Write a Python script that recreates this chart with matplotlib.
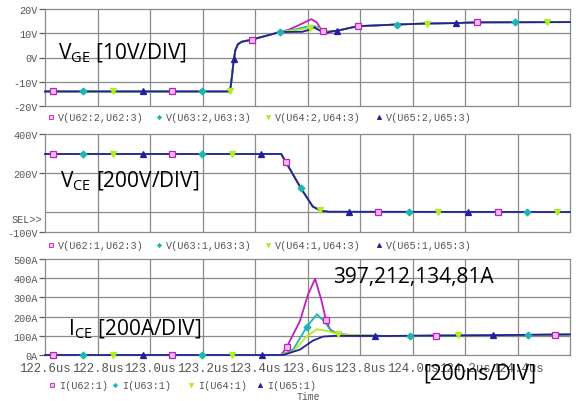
import numpy as np
import matplotlib
matplotlib.use('Agg')
import matplotlib.pyplot as plt

plt.rcParams['mathtext.fontset'] = 'custom'
plt.rcParams['mathtext.rm'] = 'Open Sans'
plt.rcParams['mathtext.it'] = 'Open Sans'

# ---- data (time in us) ----
# gate-emitter voltage, V
vge_t_common_a = [122.6, 123.305, 123.312, 123.318, 123.325, 123.335, 123.35, 123.389, 123.495]
vge_v_common_a = [-14, -14, -8, -2, 3, 5.5, 6.5, 7.4, 10.5]
vge_t_common_b = [123.79, 123.94, 124.05, 124.166, 124.25, 124.6]
vge_v_common_b = [12.9, 13.6, 14.0, 14.2, 14.5, 14.6]
vge_t_u62 = [123.53, 123.57, 123.615, 123.635, 123.655, 123.675, 123.70, 123.712]
vge_v_u62 = [11.5, 13.5, 15.8, 14.5, 11.0, 10.3, 10.8, 11.0]
vge_t_u63 = [123.55, 123.60, 123.63, 123.66, 123.69, 123.712]
vge_v_u63 = [11.5, 12.8, 12.8, 11.2, 10.8, 11.0]
vge_t_u64 = [123.55, 123.60, 123.64, 123.67, 123.712]
vge_v_u64 = [11.2, 12.0, 12.0, 11.0, 11.0]
vge_t_u65 = [123.58, 123.60, 123.62, 123.64, 123.667, 123.69, 123.712]
vge_v_u65 = [10.6, 11.2, 12.7, 11.5, 10.0, 10.8, 11.0]

# collector-emitter voltage, V (all four traces overlap)
vce_t = [122.6, 123.50, 123.518, 123.575, 123.62, 123.648, 123.68, 124.6]
vce_v = [298, 298, 256, 123, 30, 10, 3, 2]

# collector current, A
ice_t_u62 = [122.6, 123.50, 123.522, 123.571, 123.602, 123.629, 123.654, 123.669, 123.686, 123.711, 123.76, 123.9, 124.2, 124.6]
ice_i_u62 = [0, 0, 44, 176, 315, 397, 280, 190, 133, 112, 104, 99, 102, 107]
ice_t_u63 = [122.6, 123.50, 123.545, 123.598, 123.636, 123.667, 123.692, 123.725, 123.9, 124.2, 124.6]
ice_i_u63 = [0, 0, 28, 148, 212, 170, 122, 105, 99, 102, 107]
ice_t_u64 = [122.6, 123.50, 123.545, 123.594, 123.635, 123.665, 123.723, 123.9, 124.2, 124.6]
ice_i_u64 = [0, 0, 18, 93, 134, 128, 107, 99, 102, 107]
ice_t_u65 = [122.6, 123.507, 123.571, 123.621, 123.659, 123.705, 123.9, 124.2, 124.6]
ice_i_u65 = [0, 0, 28, 75, 96, 100, 99, 102, 107]

# marker times
vge_mk = [[122.630, 123.084, 123.389, 123.659, 123.792, 124.246],
          [122.745, 123.198, 123.495, 123.941, 124.390],
          [122.859, 123.305, 123.610, 124.055, 124.512],
          [122.973, 123.320, 123.712, 124.166]]
vce_mk = [[122.630, 123.084, 123.518, 123.869, 124.326],
          [122.745, 123.198, 123.575, 123.987, 124.436],
          [122.859, 123.312, 123.648, 124.097, 124.550],
          [122.973, 123.423, 123.758, 124.211]]
ice_mk = [[122.630, 123.084, 123.522, 123.671, 124.090, 124.543],
          [122.745, 123.198, 123.598, 123.990, 124.440],
          [122.859, 123.312, 123.716, 124.175],
          [122.973, 123.427, 123.857, 124.307]]

xticks = [122.6, 122.8, 123.0, 123.2, 123.4, 123.6, 123.8, 124.0, 124.2, 124.4]
xlabels = ['122.6us', '122.8us', '123.0us', '123.2us', '123.4us',
           '123.6us', '123.8us', '124.0us', '124.2us', '124.4us']

colors = ['#c020c0', '#20b4b4', '#b0ee20', '#2020a0']
markers = ['s', 'D', 'v', '^']
msizes = [4.5, 3.5, 5, 5]
mfaces = ['#f0c0f0', '#20b4b4', '#b0ee20', '#2020a0']

vge_leg = ['V(U62:2,U62:3)', 'V(U63:2,U63:3)', 'V(U64:2,U64:3)', 'V(U65:2,U65:3)']
vce_leg = ['V(U62:1,U62:3)', 'V(U63:1,U63:3)', 'V(U64:1,U64:3)', 'V(U65:1,U65:3)']
ice_leg = ['I(U62:1)', 'I(U63:1)', 'I(U64:1)', 'I(U65:1)']

mono = 'Liberation Mono'
tcol = '#555555'
W, H = 576, 402

fig = plt.figure(figsize=(5.76, 4.02), dpi=100)


def rect(l, t, r, b):
    return [l / W, 1 - b / H, (r - l) / W, (b - t) / H]


def setup(ax, yt, yl, ylim, grid_y):
    ax.set_xlim(122.6, 124.6)
    ax.set_ylim(*ylim)
    ax.set_xticks(xticks)
    ax.set_yticks(yt)
    ax.set_yticklabels(yl, family=mono, fontsize=7.3, color=tcol)
    for g in grid_y:
        ax.axhline(g, color='#8a8a8a', lw=0.9, zorder=0)
    for x in xticks[1:]:
        ax.axvline(x, color='#8a8a8a', lw=0.9, zorder=0)
    for s in ax.spines.values():
        s.set_color('#8a8a8a')
        s.set_linewidth(0.9)
    ax.tick_params(axis='y', length=4, width=0.9, color='#606060', pad=1)
    ax.tick_params(axis='x', length=0)


def draw(ax, series, mk):
    for i, (t, v) in enumerate(series):
        ax.plot(t, v, color=colors[i], lw=1.3, zorder=2 + i, clip_on=False)
    for i, (t, v) in enumerate(series):
        ax.plot(mk[i], np.interp(mk[i], t, v), ls='none', marker=markers[i],
                ms=msizes[i], mec=colors[i], mfc=mfaces[i], mew=0.9,
                zorder=10, clip_on=False)


def legend(y, labels, xs):
    for i, lab in enumerate(labels):
        fig.lines.append(plt.Line2D([(xs[i] - 7) / W], [1 - y / H], transform=fig.transFigure,
                                    marker=markers[i], ms=msizes[i] * 0.6, mec=colors[i],
                                    mfc=mfaces[i], mew=0.6, ls='none'))
        fig.text(xs[i] / W, 1 - y / H, lab, family=mono, fontsize=7.3,
                 color=tcol, va='center', ha='left')


# top: Vge
ax1 = fig.add_axes(rect(45, 10, 570, 107))
setup(ax1, [20, 10, 0, -10, -20], ['20V', '10V', '0V', '-10V', '-20V'], (-20, 20), [10, 0, -10])
vge_series = []
for tt, vv in [(vge_t_u62, vge_v_u62), (vge_t_u63, vge_v_u63),
               (vge_t_u64, vge_v_u64), (vge_t_u65, vge_v_u65)]:
    vge_series.append((vge_t_common_a + tt + vge_t_common_b,
                       vge_v_common_a + vv + vge_v_common_b))
draw(ax1, vge_series, vge_mk)
ax1.set_xticklabels([])
legend(118, vge_leg, [58, 166, 275, 386])

# middle: Vce
ax2 = fig.add_axes(rect(45, 135, 570, 233))
setup(ax2, [400, 200, -100], ['400V', '200V', '-100V'], (-100, 400), [200, 0])
draw(ax2, [(vce_t, vce_v)] * 4, vce_mk)
ax2.set_xticklabels([])
fig.text(12 / W, 1 - 220 / H, 'SEL>>', family=mono, fontsize=7.3, color=tcol, va='center')
legend(246, vce_leg, [58, 166, 275, 386])

# bottom: Ice
ax3 = fig.add_axes(rect(45, 260, 570, 356))
setup(ax3, [500, 400, 300, 200, 100, 0], ['500A', '400A', '300A', '200A', '100A', '0A'],
      (0, 500), [100, 200, 300, 400])
draw(ax3, [(ice_t_u62, ice_i_u62), (ice_t_u63, ice_i_u63),
           (ice_t_u64, ice_i_u64), (ice_t_u65, ice_i_u65)], ice_mk)
ax3.set_xticklabels(xlabels, family=mono, fontsize=8.9, color=tcol)
ax3.tick_params(axis='x', pad=5)
legend(386, ice_leg, [59, 122, 198, 267])
fig.text(308 / W, 1 - 397 / H, 'Time', family=mono, fontsize=7, color=tcol,
         ha='center', va='center')

# annotations
big = dict(family='Open Sans', fontsize=15, color='black', va='baseline', ha='left')
fig.text(58 / W, 1 - 59 / H, r'V$_{\mathrm{GE}}$ [10V/DIV]', **big)
fig.text(60 / W, 1 - 187 / H, r'V$_{\mathrm{CE}}$ [200V/DIV]', **big)
fig.text(68 / W, 1 - 335 / H, r'I$_{\mathrm{CE}}$ [200A/DIV]', **big)
fig.text(333 / W, 1 - 283 / H, '397,212,134,81A', **big)
fig.text(423 / W, 1 - 380 / H, '[200ns/DIV]', **big)

fig.savefig('out.png', dpi=100)
